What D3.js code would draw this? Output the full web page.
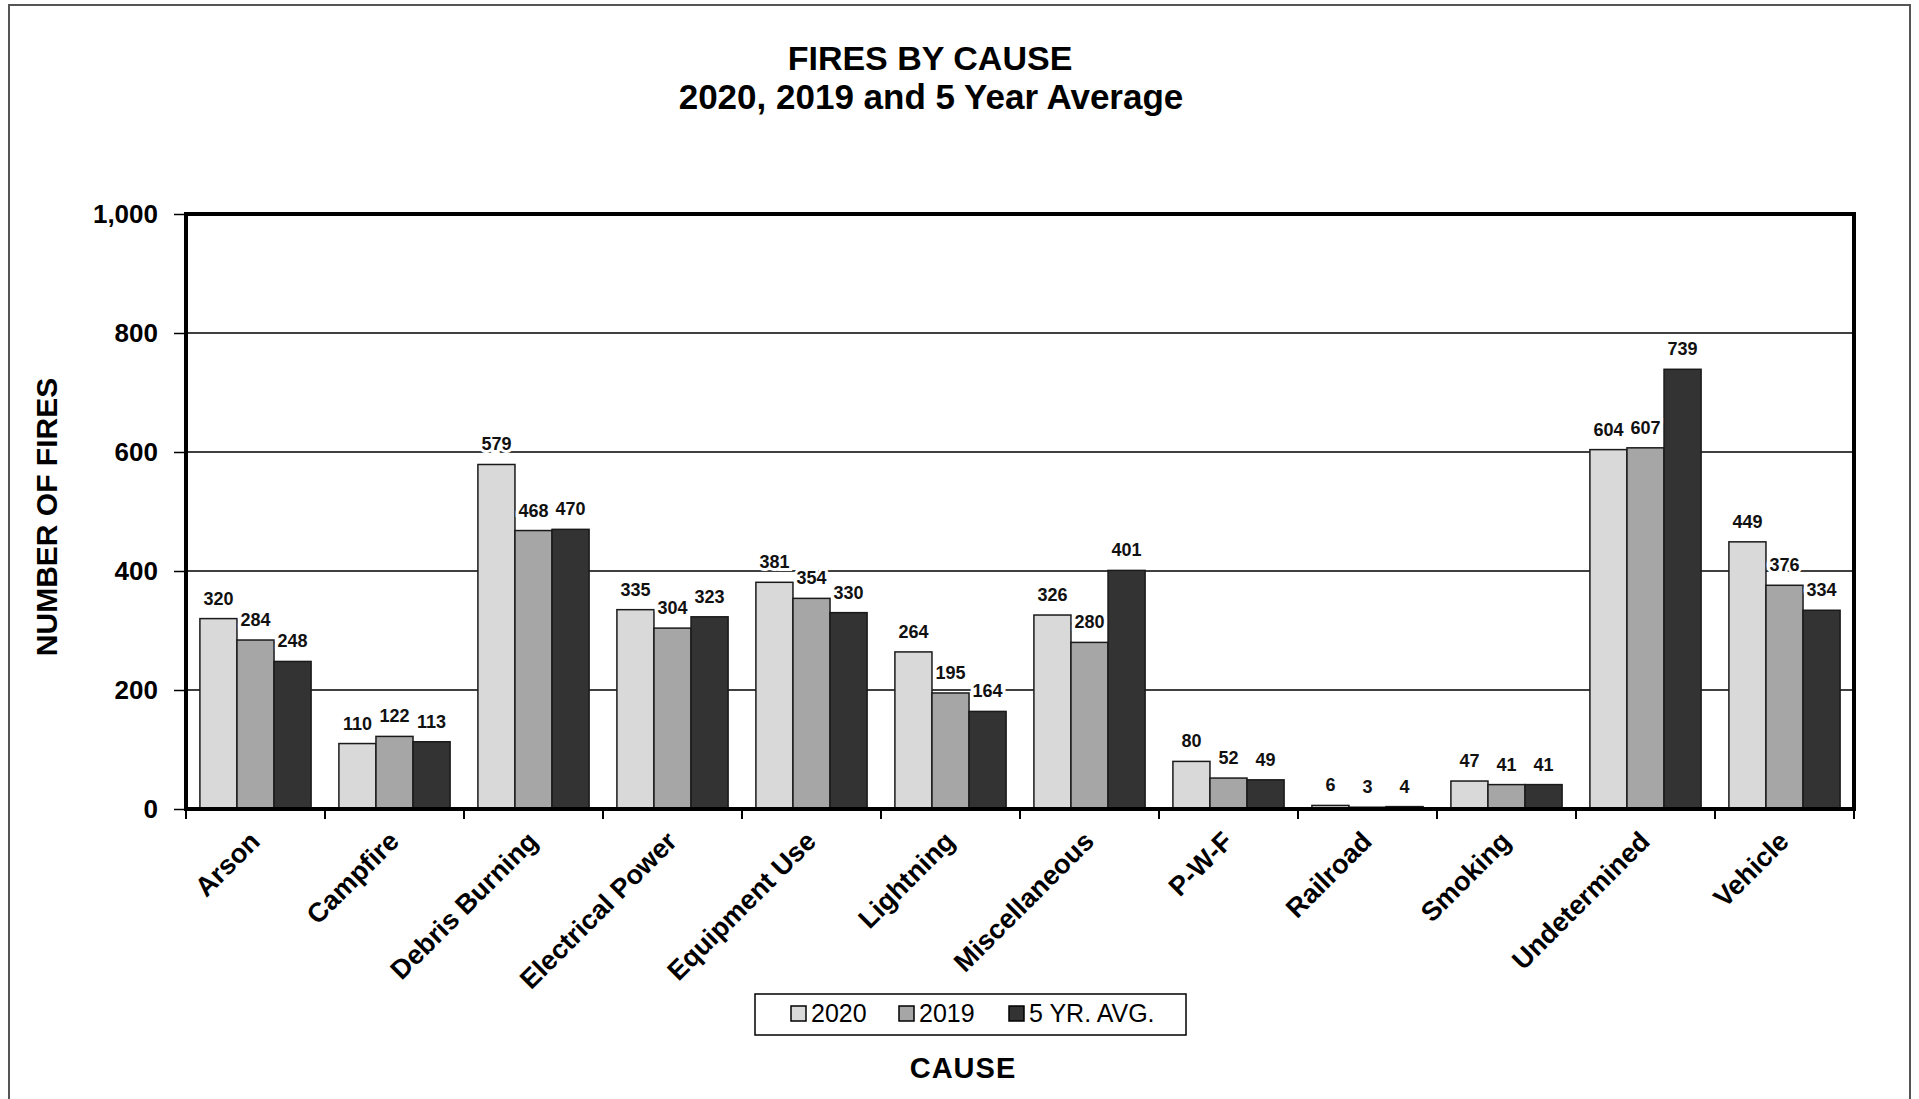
<!DOCTYPE html>
<html>
<head>
<meta charset="utf-8">
<script src="https://cdn.jsdelivr.net/npm/d3@7"></script>
<style>
  body { margin: 0; background: #fff; }
  svg text { font-family: "Liberation Sans", Arial, sans-serif; }
</style>
</head>
<body>
<div id="chart"></div>
<script>
const causes = ["Arson", "Campfire", "Debris Burning", "Electrical Power", "Equipment Use",
  "Lightning", "Miscellaneous", "P-W-F", "Railroad", "Smoking", "Undetermined", "Vehicle"];
const seriesNames = ["2020", "2019", "5 YR. AVG."];
const fires2020 = [320, 110, 579, 335, 381, 264, 326, 80, 6, 47, 604, 449];
const fires2019 = [284, 122, 468, 304, 354, 195, 280, 52, 3, 41, 607, 376];
const fiveYrAvg = [248, 113, 470, 323, 330, 164, 401, 49, 4, 41, 739, 334];
const yTicks = [0, 200, 400, 600, 800, 1000];

const width = 1919, height = 1099;
const plot = { left: 186, right: 1854, top: 214, bottom: 809 };

const svg = d3.select("#chart").append("svg")
    .attr("width", width)
    .attr("height", height);

// outer frame
svg.append("rect")
  .attr("x", 9).attr("y", 5)
  .attr("width", 1901).attr("height", 1110)
  .attr("fill", "none")
  .attr("stroke", "#555")
  .attr("stroke-width", 2);

// title
const title = svg.append("text")
  .attr("text-anchor", "middle")
  .attr("font-weight", "bold")
  .attr("font-size", 34);
title.append("tspan").attr("x", 930).attr("y", 70).text("FIRES BY CAUSE");
title.append("tspan").attr("x", 931).attr("y", 109).attr("font-size", 35).text("2020, 2019 and 5 Year Average");

const rows = causes.map((c, i) => ({ cause: c, values: [fires2020[i], fires2019[i], fiveYrAvg[i]] }));

const x0 = d3.scaleBand()
  .domain(causes)
  .range([plot.left, plot.right])
  .paddingInner(0.2)
  .paddingOuter(0.1);

const x1 = d3.scaleBand()
  .domain(d3.range(seriesNames.length))
  .range([0, x0.bandwidth()]);

const y = d3.scaleLinear()
  .domain([0, 1000])
  .range([plot.bottom, plot.top]);

const color = d3.scaleOrdinal()
  .domain(d3.range(3))
  .range(["#d9d9d9", "#a6a6a6", "#333333"]);

// gridlines
svg.append("g")
  .selectAll("line")
  .data(yTicks.filter(t => t > 0 && t < 1000))
  .enter().append("line")
    .attr("x1", plot.left).attr("x2", plot.right)
    .attr("y1", d => y(d)).attr("y2", d => y(d))
    .attr("stroke", "#000")
    .attr("stroke-width", 1.5);

// y axis ticks + labels
const yAxis = svg.append("g")
  .attr("transform", `translate(${plot.left},0)`)
  .call(d3.axisLeft(y).tickValues(yTicks).tickSize(12).tickPadding(16).tickFormat(d3.format(",")));
yAxis.select(".domain").remove();
yAxis.selectAll(".tick line").attr("stroke", "#000").attr("stroke-width", 1.5);
yAxis.selectAll("text")
  .attr("font-size", 26)
  .attr("font-weight", "bold")
  .attr("fill", "#000")
  .attr("font-family", "Liberation Sans, Arial, sans-serif");

// bars
const groups = svg.append("g")
  .selectAll("g")
  .data(rows)
  .enter().append("g")
    .attr("transform", d => `translate(${x0(d.cause)},0)`);

groups.selectAll("rect")
  .data(d => d.values.map((v, k) => ({ k, v })))
  .enter().append("rect")
    .attr("x", d => x1(d.k))
    .attr("y", d => y(d.v))
    .attr("width", x1.bandwidth())
    .attr("height", d => y(0) - y(d.v))
    .attr("fill", d => color(d.k))
    .attr("stroke", "#1a1a1a")
    .attr("stroke-width", 1.5);

groups.selectAll("text")
  .data(d => d.values.map((v, k) => ({ k, v })))
  .enter().append("text")
    .attr("x", d => x1(d.k) + x1.bandwidth() / 2)
    .attr("y", d => y(d.v) - 14)
    .attr("text-anchor", "middle")
    .attr("font-size", 18)
    .attr("font-weight", "bold")
    .attr("fill", "#111")
    .attr("stroke", "#fff")
    .attr("stroke-width", 6)
    .attr("paint-order", "stroke")
    .text(d => d.v);

// plot frame
svg.append("rect")
  .attr("x", plot.left).attr("y", plot.top)
  .attr("width", plot.right - plot.left)
  .attr("height", plot.bottom - plot.top)
  .attr("fill", "none")
  .attr("stroke", "#000")
  .attr("stroke-width", 4);

// x axis ticks at category boundaries
svg.append("g")
  .selectAll("line")
  .data(causes.concat(["end"]))
  .enter().append("line")
    .attr("x1", (d, i) => plot.left + i * x0.step())
    .attr("x2", (d, i) => plot.left + i * x0.step())
    .attr("y1", plot.bottom)
    .attr("y2", plot.bottom + 10)
    .attr("stroke", "#000")
    .attr("stroke-width", 2);

// category labels
svg.append("g")
  .selectAll("text")
  .data(causes)
  .enter().append("text")
    .attr("transform", d => `translate(${x0(d) + x0.bandwidth() / 2 + 6},${plot.bottom + 34}) rotate(-45)`)
    .attr("text-anchor", "end")
    .attr("font-size", 27)
    .attr("font-weight", "bold")
    .attr("fill", "#000")
    .text(d => d);

// y title
svg.append("text")
  .attr("transform", "translate(57,517) rotate(-90)")
  .attr("text-anchor", "middle")
  .attr("font-size", 30)
  .attr("font-weight", "bold")
  .text("NUMBER OF FIRES");

// legend
const legend = svg.append("g");
legend.append("rect")
  .attr("x", 755).attr("y", 994)
  .attr("width", 431).attr("height", 41)
  .attr("fill", "#fff")
  .attr("stroke", "#000")
  .attr("stroke-width", 1.5);

const legendX = [791, 899, 1009];
const items = legend.selectAll(".legend-item")
  .data(seriesNames)
  .enter().append("g")
    .attr("class", "legend-item")
    .attr("transform", (d, i) => `translate(${legendX[i]},1006)`);

items.append("rect")
  .attr("width", 15).attr("height", 15)
  .attr("fill", (d, i) => color(i))
  .attr("stroke", "#000")
  .attr("stroke-width", 1.5);

items.append("text")
  .attr("x", 20)
  .attr("y", 16)
  .attr("font-size", 25)
  .text(d => d);

svg.append("text")
  .attr("x", 963)
  .attr("y", 1078)
  .attr("text-anchor", "middle")
  .attr("font-size", 29)
  .attr("font-weight", "bold")
  .attr("letter-spacing", 1)
  .text("CAUSE");
</script>
</body>
</html>
